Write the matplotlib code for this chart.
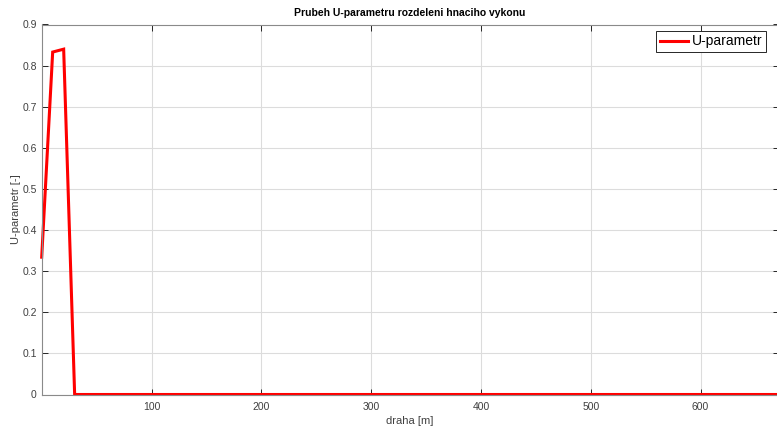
import matplotlib
matplotlib.use("Agg")
import matplotlib.pyplot as plt

x_dist = [0, 10, 20, 30, 671]
u_param = [0.334, 0.833, 0.840, 0.0, 0.0]
yticks = [0, 0.1, 0.2, 0.3, 0.4, 0.5, 0.6, 0.7, 0.8, 0.9]
ytick_labels = ["0", "0.1", "0.2", "0.3", "0.4", "0.5", "0.6", "0.7", "0.8", "0.9"]
xticks = [100, 200, 300, 400, 500, 600]

plt.rcParams['font.family'] = ['Liberation Sans', 'DejaVu Sans']
fig = plt.figure(figsize=(7.77, 4.28), dpi=100)
ax = fig.add_axes([41.7/777, 1-394.5/428, 1-41.7/777 + 0.002, (394.5-24.5)/428])
ax.plot(x_dist, u_param, color='#ff0000', lw=2.2, label='U-parametr', solid_joinstyle='miter', clip_on=False)
ax.set_xlim(0, 671)
ax.set_ylim(0, 0.9)
ax.set_yticks(yticks)
ax.set_yticklabels(ytick_labels)
ax.set_xticks(xticks)
ax.grid(True, color='#dcdcdc', lw=0.8)
ax.set_axisbelow(True)
for s in ax.spines.values():
    s.set_color('#8a8a8a')
    s.set_linewidth(0.8)
ax.tick_params(labelsize=7.5, colors='#262626', labelcolor='#404040', direction='in', length=4, width=0.7, top=True, right=True)
ax.tick_params(axis='x', pad=5.5)
ax.set_xlabel('draha [m]', fontsize=8, color='#404040', labelpad=3)
ax.set_ylabel('U-parametr [-]', fontsize=8, color='#404040', labelpad=1)
ax.set_title('Prubeh U-parametru rozdeleni hnaciho vykonu', fontsize=7.5, fontweight='bold', pad=6)
leg = ax.legend(loc='upper right', fontsize=10, fancybox=False, framealpha=1, edgecolor='#262626',
                borderpad=0.25, handlelength=2.0, handletextpad=0.3, borderaxespad=0,
                bbox_to_anchor=(766/777, 1-31/428), bbox_transform=fig.transFigure)
leg.get_frame().set_linewidth(0.7)
fig.savefig('out.png', dpi=100)
